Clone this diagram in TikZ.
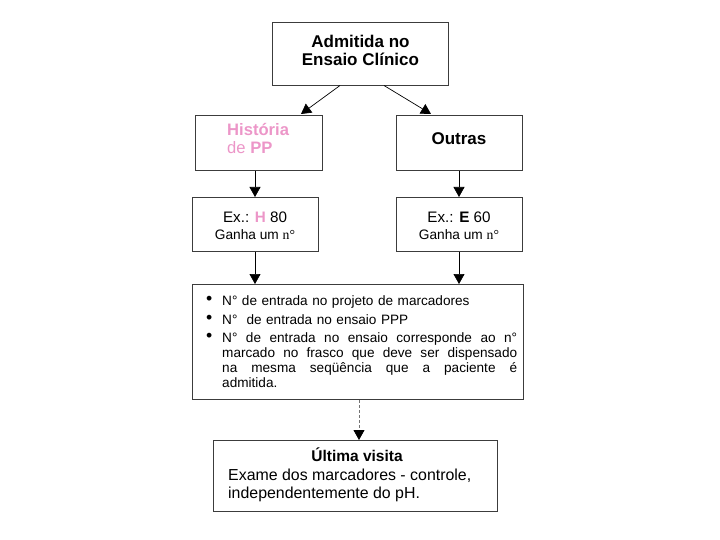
\documentclass[tikz,border=0pt]{standalone}
\usepackage{fontspec}
\setmainfont{Liberation Sans}
\newfontfamily\serifnum{Liberation Serif}
\usetikzlibrary{arrows.meta}
\definecolor{pinkt}{RGB}{236,150,200}
\definecolor{boxline}{RGB}{60,60,60}
\tikzset{
  box/.style={draw=boxline, line width=0.9pt, inner sep=0pt, anchor=north west},
  arr/.style={-{Triangle[length=10pt,width=11pt]}, line width=0.7pt},
  dasharr/.style={-{Triangle[length=10pt,width=11pt,color=black]}, line width=0.9pt, draw=black!55, dash pattern=on 3pt off 2pt},
}
\newcommand{\blt}{\makebox[0pt][r]{\raisebox{1pt}{\scalebox{1.3}{\textbullet}}\hspace{10pt}}}
\newcommand{\jline}[1]{\hbox to 295pt{\spaceskip=3.7pt plus 1fil\relax #1}}
\begin{document}
\begin{tikzpicture}[x=1pt,y=-1pt]
\useasboundingbox (0,0) rectangle (720,540);
% boxes
\node[box, minimum width=176pt, minimum height=63pt] (top) at (272,22) {};
\node[align=center, font=\bfseries\fontsize{17}{18}\selectfont] at ([yshift=4pt]top.center) {Admitida no\\Ensaio Clínico};

\node[box, minimum width=127pt, minimum height=55pt] (hist) at (194.5,115.5) {};
\node[align=left, anchor=north west, text=pinkt, font=\fontsize{16.6}{18}\selectfont, inner sep=0pt] at (227,123) {\bfseries História\\de \textbf{PP}};

\node[box, minimum width=126pt, minimum height=55pt] (outr) at (396,115.5) {};
\node[font=\bfseries\fontsize{17}{19}\selectfont] at (459,139) {Outras};

\node[box, minimum width=126pt, minimum height=54pt] (exh) at (192,197) {};
\node[font=\fontsize{15.2}{17}\selectfont, inner sep=0pt] at (255,217) {Ex.: \textcolor{pinkt}{\bfseries H} 80};
\node[font=\fontsize{13.7}{15}\selectfont, inner sep=0pt] at (255,235) {Ganha um {\serifnum n°}};

\node[box, minimum width=126pt, minimum height=54pt] (exe) at (396,197) {};
\node[font=\fontsize{15.2}{17}\selectfont, inner sep=0pt] at (459,217) {Ex.: \textbf{E} 60};
\node[font=\fontsize{13.7}{15}\selectfont, inner sep=0pt] at (459,235) {Ganha um {\serifnum n°}};

\node[box, minimum width=331pt, minimum height=115pt] (big) at (191.5,284) {};
\node[anchor=north west, inner sep=0pt, text width=295pt, font=\fontsize{13.6}{15}\selectfont] at (222,295.5) {%
\blt N° de entrada no projeto de marcadores\par\vspace{3.5pt}
\blt N°\ \ de entrada no ensaio PPP\par\vspace{3.5pt}
\noindent\blt\jline{N° de entrada no ensaio corresponde ao n°}\par
\noindent\jline{marcado no frasco que deve ser dispensado}\par
\noindent\jline{na mesma seqüência que a paciente é}\par
admitida.\par};

\node[box, minimum width=284pt, minimum height=71pt] (last) at (213,440) {};
\node[font=\bfseries\fontsize{15.5}{17}\selectfont, inner sep=0pt] at (357,455) {Última visita};
\node[anchor=west, align=left, inner sep=0pt, font=\fontsize{15.9}{18}\selectfont] at (228,485) {Exame dos marcadores - controle,\\independentemente do pH.};

% connectors
\coordinate (t1) at (340,85.5);
\coordinate (t2) at (384,85.5);
\draw[arr] (t1) -- (301,114);
\draw[arr] (t2) -- (431,114);
\draw[arr] (hist.south -| 255,0) -- (exh.north -| 255,0);
\draw[arr] (outr.south -| 459,0) -- (exe.north -| 459,0);
\draw[arr] (exh.south -| 255,0) -- (big.north -| 255,0);
\draw[arr] (exe.south -| 459,0) -- (big.north -| 459,0);
\draw[dasharr] (big.south -| 359,0) -- (last.north -| 359,0);
\end{tikzpicture}
\end{document}
